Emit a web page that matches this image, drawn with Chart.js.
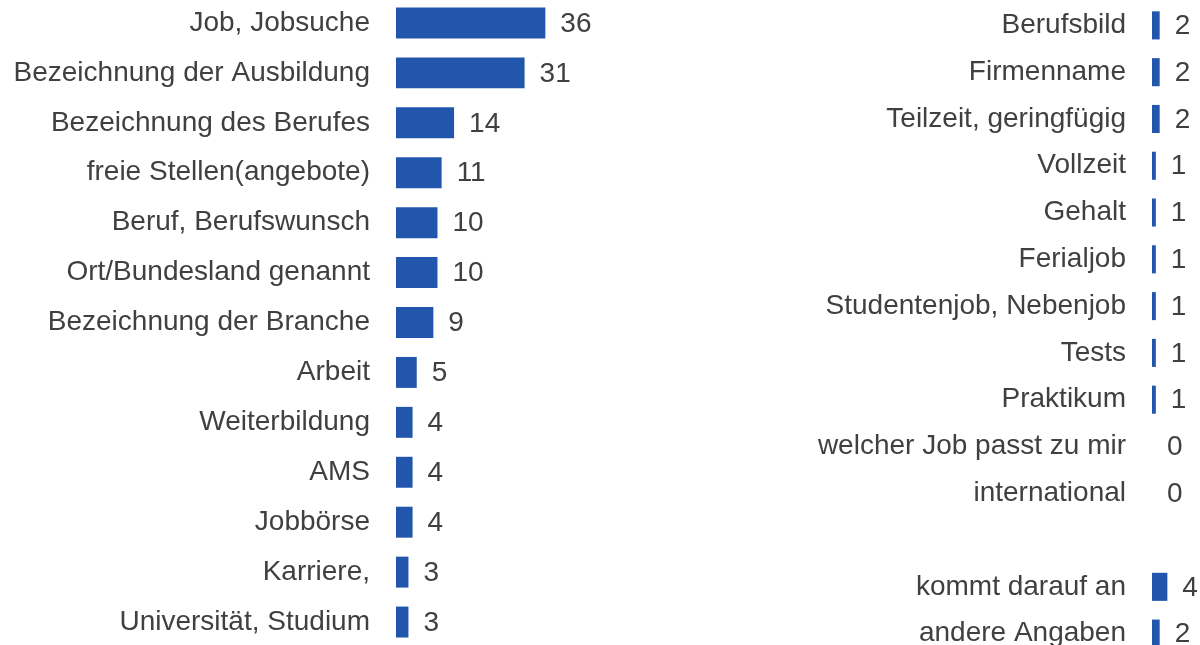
<!DOCTYPE html>
<html>
<head>
<meta charset="utf-8">
<script src="https://cdn.jsdelivr.net/npm/chart.js@4"></script>
<style>
  html, body { margin: 0; padding: 0; background: #fff; overflow: hidden; }
  body { width: 1200px; height: 645px; position: relative; }
  #leftWrap { position: absolute; left: 0; top: -2px; width: 620px; height: 649px; }
  #rightWrap { position: absolute; left: 700px; top: 2px; width: 500px; height: 655px; }
</style>
</head>
<body>
<div id="leftWrap"><canvas id="leftChart"></canvas></div>
<div id="rightWrap"><canvas id="rightChart"></canvas></div>
<script>
// left block
const leftLabels = [
    'Job, Jobsuche', 'Bezeichnung der Ausbildung', 'Bezeichnung des Berufes',
    'freie Stellen(angebote)', 'Beruf, Berufswunsch', 'Ort/Bundesland genannt',
    'Bezeichnung der Branche', 'Arbeit', 'Weiterbildung', 'AMS', 'Jobbörse',
    'Karriere,', 'Universität, Studium'
];
const leftValues = [36, 31, 14, 11, 10, 10, 9, 5, 4, 4, 4, 3, 3];

// right block (empty row before the last two)
const rightLabels = [
    'Berufsbild', 'Firmenname', 'Teilzeit, geringfügig', 'Vollzeit', 'Gehalt',
    'Ferialjob', 'Studentenjob, Nebenjob', 'Tests', 'Praktikum',
    'welcher Job passt zu mir', 'international', '', 'kommt darauf an', 'andere Angaben'
];
const rightValues = [2, 2, 2, 1, 1, 1, 1, 1, 1, 0, 0, null, 4, 2];

const barColor = '#2256ac';
const textColor = '#404040';
const fontFamily = '"Liberation Sans", Arial, sans-serif';
const fontSize = 28;

Chart.defaults.font.family = fontFamily;
Chart.defaults.font.size = fontSize;
Chart.defaults.color = textColor;

// draws the number right of each bar
const valueLabels = {
    id: 'valueLabels',
    afterDatasetsDraw(chart) {
        const ctx = chart.ctx;
        const meta = chart.getDatasetMeta(0);
        const data = chart.data.datasets[0].data;
        const xScale = chart.scales.x;
        ctx.save();
        ctx.font = fontSize + 'px ' + fontFamily;
        ctx.fillStyle = textColor;
        ctx.textAlign = 'left';
        ctx.textBaseline = 'middle';
        meta.data.forEach((bar, i) => {
            if (data[i] === null) return;
            const x = Math.max(bar.x, xScale.getPixelForValue(0));
            ctx.fillText(String(data[i]), x + 15, bar.y + 1);
        });
        ctx.restore();
    }
};

function makeChart(id, labels, values, yWidth, xMax, barPct) {
    const ctx = document.getElementById(id).getContext('2d');
    return new Chart(ctx, {
        type: 'bar',
        data: {
            labels: labels,
            datasets: [{
                data: values,
                backgroundColor: barColor,
                borderWidth: 0,
                barPercentage: barPct,
                categoryPercentage: 1
            }]
        },
        options: {
            indexAxis: 'y',
            responsive: true,
            maintainAspectRatio: false,
            animation: false,
            layout: { padding: 0 },
            plugins: {
                legend: { display: false },
                tooltip: { enabled: false }
            },
            scales: {
                x: {
                    display: false,
                    min: 0,
                    max: xMax
                },
                y: {
                    grid: { display: false, drawTicks: false },
                    border: { display: false },
                    ticks: { padding: 26, color: textColor, font: { size: fontSize } },
                    afterFit: scale => {
                        // fixed label column, no extra room above/below the rows
                        scale.width = yWidth;
                        scale.paddingTop = 0;
                        scale.paddingBottom = 0;
                    }
                }
            }
        },
        plugins: [valueLabels]
    });
}

makeChart('leftChart', leftLabels, leftValues, 396, 54, 0.62);
makeChart('rightChart', rightLabels, rightValues, 452, 12.5, 0.6);
</script>
</body>
</html>
